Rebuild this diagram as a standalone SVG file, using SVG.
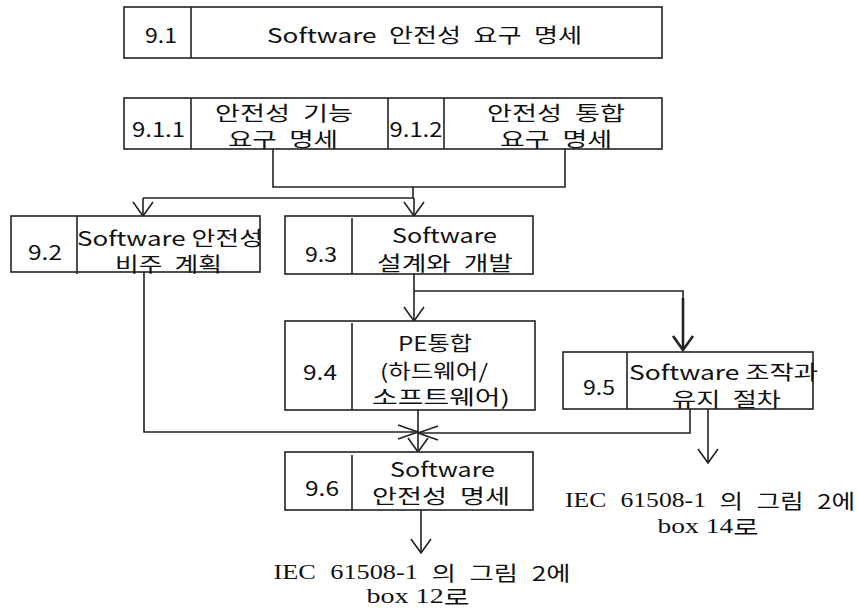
<svg xmlns="http://www.w3.org/2000/svg" width="858" height="610" viewBox="0 0 858 610">
<style>
.bg{fill:#fff}
.box{fill:#fff;stroke:#222;stroke-width:1.6}
.div{stroke:#222;stroke-width:1.6}
.t{font-family:"Noto Sans CJK KR","Noto Sans",sans-serif;font-size:20px;fill:#111;text-anchor:middle;dominant-baseline:central}
.s{font-family:"Liberation Serif","Noto Sans CJK KR",serif}
.ln{fill:none;stroke:#222;stroke-width:1.6}
.thk{fill:none;stroke:#222;stroke-width:2.6}
</style>
<defs>
<marker id="arr" viewBox="0 0 16 22" refX="15" refY="11" markerWidth="16" markerHeight="22" markerUnits="userSpaceOnUse" orient="auto">
<path d="M1,1 L15,11 L1,21" fill="none" stroke="#222" stroke-width="1.6"/>
</marker>
<marker id="arrh" viewBox="0 0 22 16" refX="21" refY="8" markerWidth="22" markerHeight="16" markerUnits="userSpaceOnUse" orient="auto">
<path d="M1,1 L21,8 L1,15" fill="none" stroke="#222" stroke-width="1.6"/>
</marker>
<marker id="arrt" viewBox="0 0 18 24" refX="16" refY="12" markerWidth="18" markerHeight="24" markerUnits="userSpaceOnUse" orient="auto">
<path d="M2,2 L16,12 L2,22" fill="none" stroke="#222" stroke-width="2.6"/>
</marker>
</defs>
<rect class="bg" x="0" y="0" width="858" height="610"/>

<g id="connectors">
<polyline class="ln" points="273,149 273,187 565,187 565,149"/>
<line class="ln" x1="413" y1="187" x2="413" y2="198"/>
<polyline class="ln" points="143,198 414,198"/>
<line class="ln" x1="143" y1="198" x2="143" y2="216" marker-end="url(#arr)"/>
<line class="ln" x1="414" y1="198" x2="414" y2="216" marker-end="url(#arr)"/>
<line class="ln" x1="414" y1="274" x2="414" y2="321" marker-end="url(#arr)"/>
<polyline class="ln" points="414,291 683,291 683,300"/>
<line class="thk" x1="683" y1="298" x2="683" y2="350" marker-end="url(#arrt)"/>
<polyline class="ln" points="144,272 144,432 418,432" marker-end="url(#arrh)"/>
<polyline class="ln" points="690,409 690,433 418,433" marker-end="url(#arrh)"/>
<line class="ln" x1="418" y1="410" x2="418" y2="452" marker-end="url(#arr)"/>
<line class="ln" x1="708" y1="409" x2="708" y2="463" marker-end="url(#arr)"/>
<line class="ln" x1="421" y1="510" x2="421" y2="553" marker-end="url(#arr)"/>
</g>

<g id="n9_1">
<rect class="box" x="124" y="7" width="538" height="51"/>
<line class="div" x1="191" y1="7" x2="191" y2="58"/>
<text class="t" x="161" y="34" textLength="32" lengthAdjust="spacingAndGlyphs">9.1</text>
<text class="t" x="424.5" y="34" textLength="315" lengthAdjust="spacingAndGlyphs" style="word-spacing:5px">Software 안전성 요구 명세</text>
</g>

<g id="n9_1_x">
<rect class="box" x="124" y="98" width="538" height="51"/>
<line class="div" x1="191" y1="98" x2="191" y2="149"/>
<line class="div" x1="388" y1="98" x2="388" y2="149"/>
<line class="div" x1="444" y1="98" x2="444" y2="149"/>
<text class="t" x="158.5" y="128" textLength="53" lengthAdjust="spacingAndGlyphs">9.1.1</text>
<text class="t" x="284" y="112" textLength="138" lengthAdjust="spacingAndGlyphs" style="word-spacing:5px">안전성 기능</text>
<text class="t" x="283" y="138" textLength="110" lengthAdjust="spacingAndGlyphs" style="word-spacing:5px">요구 명세</text>
<text class="t" x="416" y="128" textLength="53" lengthAdjust="spacingAndGlyphs">9.1.2</text>
<text class="t" x="556" y="112" textLength="138" lengthAdjust="spacingAndGlyphs" style="word-spacing:5px">안전성 통합</text>
<text class="t" x="556" y="138" textLength="112" lengthAdjust="spacingAndGlyphs" style="word-spacing:5px">요구 명세</text>
</g>

<g id="n9_2">
<rect class="box" x="11" y="216" width="249" height="56"/>
<line class="div" x1="77" y1="216" x2="77" y2="274"/>
<text class="t" x="45" y="251" textLength="34" lengthAdjust="spacingAndGlyphs">9.2</text>
<text class="t" x="170" y="237" textLength="186" lengthAdjust="spacingAndGlyphs">Software 안전성</text>
<text class="t" x="168.5" y="263" textLength="107" lengthAdjust="spacingAndGlyphs" style="word-spacing:5px">비주 계획</text>
</g>

<g id="n9_3">
<rect class="box" x="285" y="216" width="248" height="58"/>
<line class="div" x1="352" y1="218" x2="352" y2="274"/>
<text class="t" x="321" y="253" textLength="32" lengthAdjust="spacingAndGlyphs">9.3</text>
<text class="t" x="444.5" y="234" textLength="105" lengthAdjust="spacingAndGlyphs">Software</text>
<text class="t" x="445" y="262" textLength="136" lengthAdjust="spacingAndGlyphs" style="word-spacing:5px">설계와 개발</text>
</g>

<g id="n9_4">
<rect class="box" x="285" y="321" width="250" height="89"/>
<line class="div" x1="352" y1="323" x2="352" y2="410"/>
<text class="t" x="320" y="371" textLength="34" lengthAdjust="spacingAndGlyphs">9.4</text>
<text class="t" x="435" y="342" textLength="74" lengthAdjust="spacingAndGlyphs">PE통합</text>
<text class="t" x="434" y="370" textLength="108" lengthAdjust="spacingAndGlyphs">(하드웨어/</text>
<text class="t" x="441" y="396" textLength="138" lengthAdjust="spacingAndGlyphs">소프트웨어)</text>
</g>

<g id="n9_5">
<rect class="box" x="563" y="352" width="250" height="57"/>
<line class="div" x1="627" y1="352" x2="627" y2="409"/>
<text class="t" x="599" y="386" textLength="32" lengthAdjust="spacingAndGlyphs">9.5</text>
<text class="t" x="723.5" y="371" textLength="189" lengthAdjust="spacingAndGlyphs">Software 조작과</text>
<text class="t" x="726.5" y="398" textLength="109" lengthAdjust="spacingAndGlyphs" style="word-spacing:5px">유지 절차</text>
</g>

<g id="n9_6">
<rect class="box" x="285" y="452" width="248" height="58"/>
<line class="div" x1="352" y1="455" x2="352" y2="510"/>
<text class="t" x="322" y="487" textLength="34" lengthAdjust="spacingAndGlyphs">9.6</text>
<text class="t" x="442.5" y="468" textLength="105" lengthAdjust="spacingAndGlyphs">Software</text>
<text class="t" x="441" y="495" textLength="138" lengthAdjust="spacingAndGlyphs" style="word-spacing:5px">안전성 명세</text>
</g>

<g id="out14">
<text class="t" x="710" y="500" textLength="290" lengthAdjust="spacingAndGlyphs" style="word-spacing:6px"><tspan class="s">IEC 61508-1</tspan> 의 그림 2에</text>
<text class="t" x="708" y="526" textLength="101" lengthAdjust="spacingAndGlyphs"><tspan class="s">box 14</tspan>로</text>
</g>

<g id="out12">
<text class="t" x="422" y="572" textLength="297" lengthAdjust="spacingAndGlyphs" style="word-spacing:6px"><tspan class="s">IEC 61508-1</tspan> 의 그림 2에</text>
<text class="t" x="418" y="596" textLength="103" lengthAdjust="spacingAndGlyphs"><tspan class="s">box 12</tspan>로</text>
</g>
</svg>
